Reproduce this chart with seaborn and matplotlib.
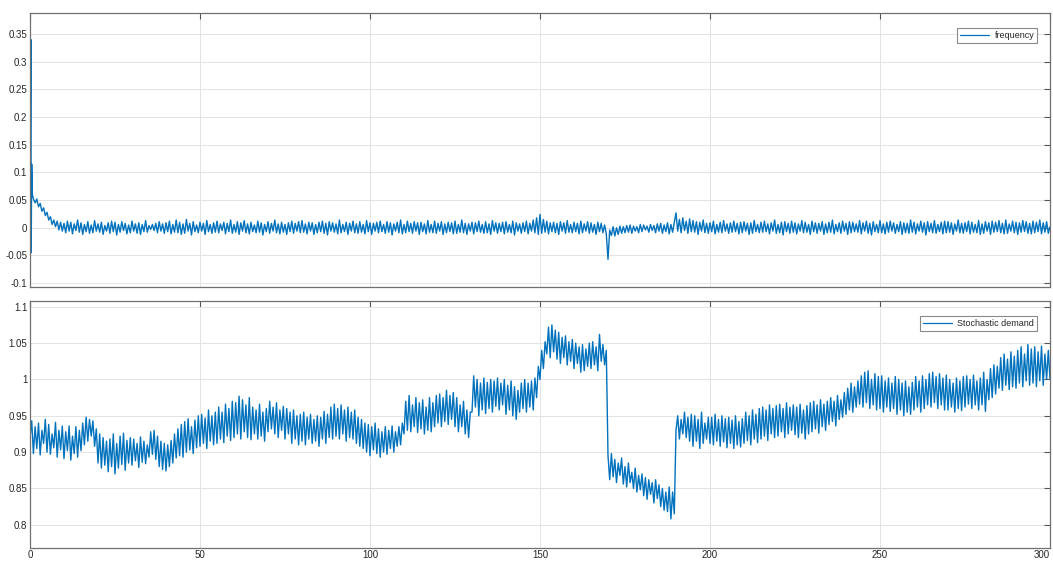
import numpy as np
import matplotlib
matplotlib.use("Agg")
import matplotlib.pyplot as plt
import seaborn as sns

# ---------------- data ----------------
# frequency: early transient samples (time, value)
freq_head_t = [0.0, 0.25, 0.35, 0.5, 0.7, 1.0]
freq_head_v = [0.0, 0.34, -0.045, 0.115, 0.06, 0.052]

# frequency, thousandths, from t = 1.5 in steps of 0.5
freq_milli = [
    45, 52, 38, 44, 30, 36, 22, 28, 14, 20, 6, 14, 2, 12, -4, 10, -6,
    8, -9, 12, -6, 10, -11, 7, -5, 14, -8,
    9, -12, 6, -7, 11, -10, 5, -9, 13, -6,
    7, -8, 10, -12, 4, -6, 9, -10, 12, -7,
    10, -13, 6, -8, 11, -5, 8, -11, 5, -9,
    12, -6, 7, -10, 9, -12, 6, -7, 13, -8,
    4, -3, 6, -5, 8, -9, 11, -6, 7, -10,
    9, -7, 12, -11, 6, -8, 14, -9, 10, -12,
    7, -10, 15, -6, 8, -13, 11, -7, 5, -9,
    10, -6, 8, -12, 13, -7, 6, -10, 9, -8,
    12, -9, 7, -5, 10, -11, 8, -7, 14, -10,
    6, -8, 11, -12, 9, -6, 13, -9, 7, -11,
    10, -7, 5, -9, 12, -8, 9, -13, 6, -7,
    11, -10, 8, -6, 14, -9, 7, -11, 10, -8,
    6, -12, 9, -7, 12, -10, 8, -6, 11, -9,
    13, -8, 7, -11, 10, -6, 9, -12, 6, -9,
    10, -7, 12, -10, 8, -13, 11, -6, 9, -8,
    7, -11, 14, -9, 6, -7, 10, -12, 8, -6,
    12, -9, 7, -10, 11, -8, 6, -11, 13, -7,
    9, -12, 8, -6, 10, -9, 12, -7, 6, -10,
    11, -8, 9, -13, 7, -6, 10, -9, 14, -11,
    6, -9, 12, -7, 8, -10, 11, -6, 9, -12,
    10, -7, 7, -11, 13, -8, 6, -9, 12, -10,
    8, -6, 11, -12, 7, -9, 10, -7, 9, -11,
    12, -10, 6, -8, 14, -9, 8, -12, 7, -6,
    10, -11, 9, -7, 12, -8, 6, -10, 11, -9,
    7, -12, 13, -6, 9, -10, 8, -7, 10, -11,
    11, -8, 6, -9, 12, -13, 9, -6, 7, -10,
    9, -7, 12, -11, 8, -6, 14, -9, 18, -12,
    24, -10, 15, -8, 12, -11, 9, -7, 10, -9,
    8, -12, 11, -6, 9, -10, 13, -8, 6, -9,
    10, -7, 8, -11, 12, -9, 7, -6, 11, -10,
    9, -8, 6, -12, 10, -7, 8, -9, 5, -11,
    -57, -4, -14, 2, -15, 0, -12, 3, -10, 2,
    -9, 4, -8, 5, -10, 3, -6, 2, -9, 6,
    -7, 5, -4, 3, -8, 6, -5, 4, -9, 7,
    -6, 8, -10, 5, -7, 9, -11, 6, -8, 10,
    27, -6, 15, -9, 18, -5, 12, -10, 16, -7,
    13, -8, 11, -12, 10, -6, 14, -9, 8, -10,
    9, -7, 12, -11, 6, -8, 10, -9, 13, -6,
    7, -10, 9, -8, 12, -7, 8, -11, 10, -9,
    11, -6, 8, -12, 9, -10, 13, -7, 6, -9,
    10, -8, 12, -7, 7, -11, 9, -6, 14, -10,
    6, -9, 10, -13, 11, -7, 8, -10, 12, -8,
    9, -11, 7, -6, 13, -9, 10, -8, 6, -12,
    12, -7, 9, -10, 8, -6, 11, -12, 7, -9,
    10, -8, 14, -11, 6, -7, 9, -10, 12, -6,
    8, -12, 11, -9, 10, -7, 7, -8, 13, -11,
    9, -6, 12, -10, 8, -13, 11, -7, 6, -9,
    13, -9, 7, -11, 10, -8, 12, -6, 9, -10,
    6, -7, 11, -12, 9, -9, 8, -10, 14, -8,
    10, -11, 7, -6, 12, -8, 9, -13, 11, -7,
    8, -9, 13, -10, 6, -7, 10, -11, 12, -9,
    11, -8, 9, -12, 7, -6, 14, -9, 8, -10,
    9, -7, 12, -11, 10, -8, 6, -9, 13, -12,
    7, -10, 11, -6, 9, -12, 12, -8, 10, -7,
    13, -9, 8, -11, 14, -10, 7, -6, 12, -9,
    10, -12, 9, -8, 13, -7, 11, -10, 8, -11,
    12, -9, 10, -7, 14, -11, 9, -8, 11, -10,
    2,
]

# stochastic demand, thousandths, from t = 0 in steps of 0.5
demand_milli = [
    920, 943, 898, 935, 905, 940, 896, 930, 912, 945,
    900, 938, 897, 925, 906, 941, 893, 930, 903, 936,
    891, 928, 902, 936, 889, 922, 898, 935, 893, 930,
    902, 940, 910, 948, 915, 945, 922, 943, 908, 932,
    885, 925, 878, 920, 882, 915, 873, 918, 880, 925,
    870, 912, 878, 922, 883, 926, 875, 916, 885, 920,
    882, 918, 888, 912, 879, 921, 886, 915, 884, 910,
    893, 928, 897, 930, 890, 922, 880, 915, 876, 912,
    874, 910, 880, 916, 885, 925, 892, 932, 895, 938,
    893, 942, 900, 946, 903, 935, 898, 944, 906, 950,
    908, 952, 912, 947, 905, 958, 915, 950, 910, 955,
    912, 962, 918, 955, 913, 966, 922, 960, 916, 970,
    920, 968, 925, 977, 918, 972, 928, 965, 920, 975,
    917, 962, 925, 958, 918, 966, 922, 955, 915, 960,
    928, 970, 932, 962, 925, 968, 920, 958, 930, 963,
    918, 960, 925, 955, 912, 958, 918, 950, 910, 952,
    915, 955, 910, 948, 918, 952, 912, 945, 915, 950,
    908, 948, 918, 956, 912, 952, 920, 962, 918, 966,
    922, 960, 918, 965, 925, 958, 915, 962, 920, 955,
    918, 958, 912, 948, 908, 945, 905, 940, 900, 938,
    895, 935, 903, 940, 898, 932, 893, 928, 900, 935,
    897, 930, 905, 936, 900, 928, 908, 935, 910, 940,
    925, 970, 930, 978, 928, 965, 935, 975, 927, 968,
    932, 972, 925, 962, 930, 975, 928, 968, 935, 978,
    940, 980, 935, 975, 942, 985, 938, 978, 945, 982,
    935, 975, 928, 965, 935, 970, 925, 958, 920, 955,
    955, 1005, 962, 1000, 950, 995, 958, 1002, 953, 996,
    960, 1000, 955, 998, 963, 1002, 958, 995, 965, 1000,
    952, 992, 958, 998, 950, 990, 945, 985, 955, 995,
    960, 1000, 955, 995, 962, 998, 958, 1002, 975, 1018,
    1000, 1040, 1015, 1052, 1035, 1072, 1030, 1075, 1038, 1068,
    1028, 1065, 1022, 1058, 1030, 1060, 1020, 1052, 1025, 1055,
    1015, 1050, 1022, 1045, 1010, 1048, 1012, 1042, 1018, 1050,
    1015, 1052, 1020, 1045, 1012, 1062, 1025, 1048, 1020, 1040,
    895, 862, 898, 866, 890, 858, 885, 868, 892, 856,
    880, 852, 885, 858, 872, 850, 878, 845, 868, 848,
    870, 840, 865, 835, 862, 842, 858, 830, 862, 836,
    855, 825, 850, 820, 845, 818, 852, 808, 845, 815,
    930, 950, 918, 945, 925, 955, 920, 948, 915, 952,
    908, 950, 915, 945, 905, 955, 912, 940, 918, 948,
    912, 948, 910, 952, 915, 945, 908, 950, 914, 946,
    906, 948, 912, 944, 905, 950, 910, 942, 907, 946,
    912, 955, 916, 950, 910, 958, 918, 952, 913, 960,
    918, 962, 922, 958, 916, 965, 925, 960, 920, 964,
    922, 966, 928, 960, 920, 968, 925, 962, 930, 965,
    924, 962, 920, 966, 926, 958, 918, 964, 925, 968,
    928, 970, 932, 965, 926, 972, 935, 966, 930, 970,
    938, 975, 942, 970, 936, 978, 945, 972, 948, 982,
    952, 988, 958, 995, 955, 990, 962, 998, 966, 1005,
    962, 1010, 968, 1012, 960, 1000, 965, 1008, 958, 1004,
    960, 1005, 955, 998, 962, 1002, 956, 995, 960, 1004,
    952, 1000, 958, 995, 950, 998, 955, 990, 952, 996,
    958, 1004, 962, 998, 955, 1005, 960, 1000, 965, 1008,
    962, 1010, 968, 1004, 960, 1008, 965, 1002, 958, 1006,
    958, 1000, 962, 995, 955, 1002, 960, 998, 957, 1004,
    962, 1005, 966, 1000, 960, 1006, 965, 998, 958, 1002,
    965, 1010, 956, 1000, 972, 1015, 975, 1020, 980, 1018,
    988, 1030, 985, 1035, 992, 1028, 986, 1038, 990, 1032,
    988, 1040, 995, 1045, 990, 1035, 998, 1048, 992, 1042,
    995, 1045, 990, 1038, 998, 1046, 992, 1035, 1000, 1040,
    1000,
]

x_ticks = [0, 50, 100, 150, 200, 250, 300]
freq_yticks = [-0.1, -0.05, 0, 0.05, 0.1, 0.15, 0.2, 0.25, 0.3, 0.35]
demand_yticks = [0.8, 0.85, 0.9, 0.95, 1, 1.05, 1.1]
freq_label = "frequency"
demand_label = "Stochastic demand"

# ---------------- build series ----------------
t_freq = np.concatenate([freq_head_t, 1.5 + 0.5 * np.arange(len(freq_milli))])
v_freq = np.concatenate([freq_head_v, np.array(freq_milli) / 1000.0])
t_dem = 0.5 * np.arange(len(demand_milli))
v_dem = np.array(demand_milli) / 1000.0

sns.set_theme(style="white")
plt.rcParams["font.family"] = ["Liberation Sans", "DejaVu Sans"]

W, H = 1053, 561
fig = plt.figure(figsize=(W / 100, H / 100), dpi=100)
ax1 = fig.add_axes([30 / W, 1 - 287 / H, 1020 / W, 274 / H])
ax2 = fig.add_axes([30 / W, 1 - 548 / H, 1020 / W, 247 / H])

line_color = "#0072BD"
sns.lineplot(x=t_freq, y=v_freq, ax=ax1, color=line_color, linewidth=1.0,
             label=freq_label, estimator=None, sort=False)
sns.lineplot(x=t_dem, y=v_dem, ax=ax2, color=line_color, linewidth=1.0,
             label=demand_label, estimator=None, sort=False)

def fmt(v):
    return f"{v:g}"

for ax, yt, ylim in [(ax1, freq_yticks, (-0.107, 0.388)),
                     (ax2, demand_yticks, (0.768, 1.108))]:
    ax.set_xlim(0, 300)
    ax.set_ylim(*ylim)
    ax.set_xticks(x_ticks)
    ax.set_yticks(yt)
    ax.set_yticklabels([fmt(v) for v in yt])
    ax.grid(True, color="#e3e3e3", linewidth=0.7)
    ax.set_axisbelow(True)
    for sp in ax.spines.values():
        sp.set_visible(True)
        sp.set_color("#707070")
        sp.set_linewidth(0.9)
    ax.tick_params(direction="in", length=4, width=0.8, color="#555555",
                   top=True, right=True, labelsize=7, labelcolor="#262626", pad=2)
    ax.set_xlabel("")
    ax.set_ylabel("")

ax1.set_xticklabels([])
ax2.set_xticklabels([str(v) for v in x_ticks])
ax2.tick_params(axis="x", pad=1.5)
xt_labels = ax2.get_xticklabels()
xt_labels[-1].set_horizontalalignment("right")

leg_kw = dict(loc="upper right", fancybox=False, framealpha=1, edgecolor="#8a8a8a",
              fontsize=6.5, handlelength=3.2, handletextpad=0.6, borderpad=0.35,
              labelcolor="#262626")
l1 = ax1.legend(bbox_to_anchor=(1 - 8 / 1020, 1 - 10 / 274), **leg_kw)
l2 = ax2.legend(bbox_to_anchor=(1 - 8 / 1020, 1 - 10 / 247), **leg_kw)
for l in (l1, l2):
    l.get_frame().set_linewidth(0.8)
    for h in l.get_lines():
        h.set_linewidth(0.9)

fig.savefig("out.png", dpi=100)
